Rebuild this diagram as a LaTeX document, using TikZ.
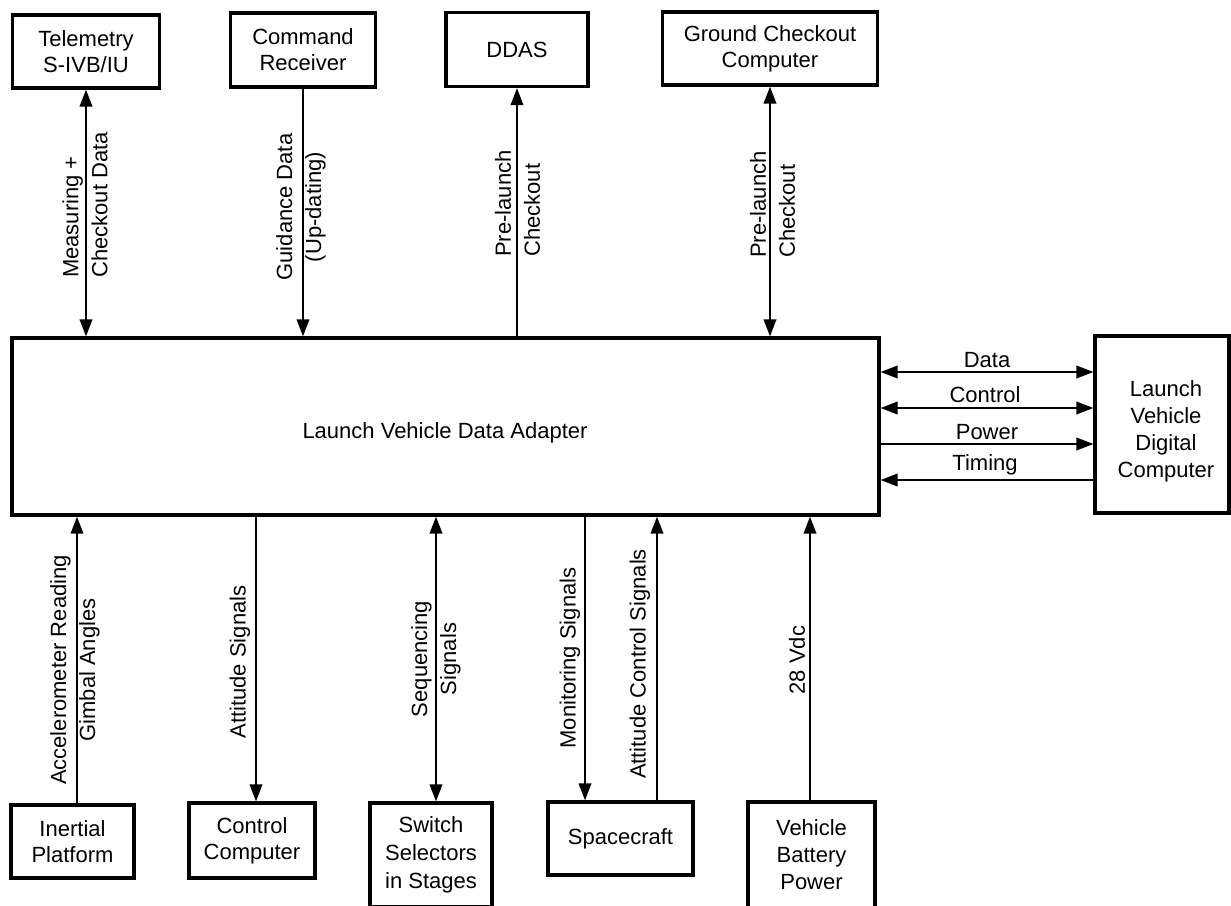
\documentclass[tikz,border=0pt]{standalone}
\usepackage{fontspec}
\setmainfont{Liberation Sans}
\usetikzlibrary{arrows.meta}
\begin{document}
\begin{tikzpicture}[x=1pt,y=-1pt,
  >={Triangle[length=17pt,width=12.5pt]},
  box/.style={draw, line width=3.2pt, inner sep=0pt, align=center, font=\fontsize{22}{26}\selectfont},
  lab/.style={inner sep=0pt, font=\fontsize{22}{29}\selectfont},
  arr/.style={line width=2pt}]
\clip (0,0) rectangle (1231,905);
\useasboundingbox (0,0) rectangle (1231,905);
\fill[white] (0,0) rectangle (1231,905);
% top boxes
\node[box, minimum width=147pt, minimum height=73pt] (tel) at (86,51.5) {Telemetry\\S-IVB/IU};
\node[box, minimum width=145pt, minimum height=74pt] (cmd) at (303,50) {Command\\Receiver};
\node[box, minimum width=142pt, minimum height=74pt] (ddas) at (517,49.5) {DDAS};
\node[box, minimum width=215pt, minimum height=73pt] (gcc) at (770,48.5) {Ground Checkout\\Computer};
% central
\node[box, minimum width=867pt, minimum height=177pt] (lvda) at (445.5,426.5) {};
\node[lab, anchor=base] (lvdaText) at (445,438) {Launch Vehicle Data Adapter};
\node[box, minimum width=134pt, minimum height=177pt] (lvdc) at (1162,424.5) {};
\node[lab, align=center, font=\fontsize{22}{27}\selectfont] (lvdcText) at (1166,431) {Launch\\Vehicle\\Digital\\Computer};
% bottom boxes
\node[box, minimum width=123pt, minimum height=73pt] (inert) at (72.5,841.5) {Inertial\\Platform};
\node[box, minimum width=126pt, minimum height=75pt] (ctrl) at (252,840.5) {Control\\Computer};
\node[box, minimum width=122pt, minimum height=104pt, font=\fontsize{22}{28}\selectfont] (sw) at (431,855) {Switch\\Selectors\\in Stages};
\node[box, minimum width=145pt, minimum height=73pt] (sc) at (620.5,838.5) {Spacecraft};
\node[box, minimum width=127pt, minimum height=106pt, font=\fontsize{22}{27}\selectfont] (vbp) at (811.5,855) {Vehicle\\Battery\\Power};
% top connectors
\draw[arr,<->] (tel.south) -- (tel.south |- lvda.north);
\draw[arr,->] (cmd.south) -- (cmd.south |- lvda.north);
\draw[arr,<-] (ddas.south) -- (ddas.south |- lvda.north);
\draw[arr,<->] (gcc.south) -- (gcc.south |- lvda.north);
% bottom connectors
\draw[arr,->] ([xshift=4.5pt]inert.north) -- ([xshift=4.5pt]inert.north |- lvda.south);
\draw[arr,->] ([xshift=4pt]ctrl.north |- lvda.south) -- ([xshift=4pt]ctrl.north);
\draw[arr,<->] ([xshift=5pt]sw.north) -- ([xshift=5pt]sw.north |- lvda.south);
\draw[arr,->] ([xshift=-35.5pt]sc.north |- lvda.south) -- ([xshift=-35.5pt]sc.north);
\draw[arr,->] ([xshift=36.5pt]sc.north) -- ([xshift=36.5pt]sc.north |- lvda.south);
\draw[arr,->] ([xshift=-1.5pt]vbp.north) -- ([xshift=-1.5pt]vbp.north |- lvda.south);
% right connectors
\draw[arr,<->] (lvda.east |- 0,372) -- (lvdc.west |- 0,372);
\draw[arr,<->] (lvda.east |- 0,408) -- (lvdc.west |- 0,408);
\draw[arr,->] (lvda.east |- 0,444) -- (lvdc.west |- 0,444);
\draw[arr,<-] (lvda.east |- 0,480) -- (lvdc.west |- 0,480);
% labels
\node[lab, rotate=90, anchor=west, align=left] (lTel) at (85,278) {Measuring +\\Checkout Data};
\node[lab, rotate=90, align=center] (lCmd) at (301,207) {Guidance Data\\(Up-dating)};
\node[lab, rotate=90, anchor=west, align=left] (lDdas) at (517.5,257) {Pre-launch\\Checkout};
\node[lab, rotate=90, anchor=west, align=left] (lGcc) at (772.5,258) {Pre-launch\\Checkout};
\node[lab, rotate=90, align=center] (lAcc) at (75,670) {Accelerometer Reading\\Gimbal Angles};
\node[lab, rotate=90] (lAtt) at (240,662) {Attitude Signals};
\node[lab, rotate=90, align=center] (lSeq) at (436,659) {Sequencing\\Signals};
\node[lab, rotate=90] (lMon) at (570,658) {Monitoring Signals};
\node[lab, rotate=90] (lAcs) at (640,664) {Attitude Control Signals};
\node[lab, rotate=90] (l28) at (797,660) {28 Vdc};
\node[lab, anchor=base] (lData) at (987,367) {Data};
\node[lab, anchor=base] (lCtl) at (985,402) {Control};
\node[lab, anchor=base] (lPow) at (987,439) {Power};
\node[lab, anchor=base] (lTim) at (985,470) {Timing};
\end{tikzpicture}
\end{document}
